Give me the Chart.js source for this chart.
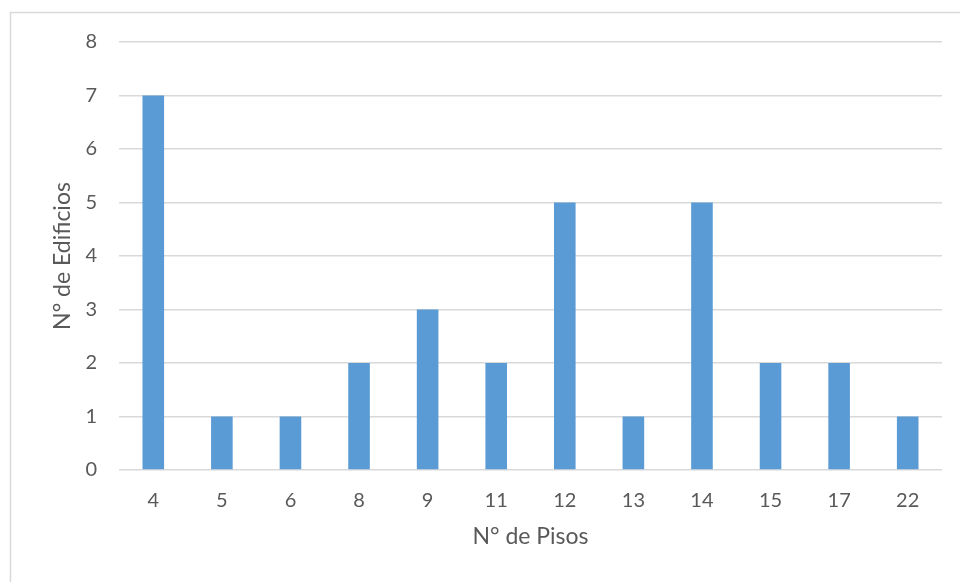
<!DOCTYPE html>
<html>
<head>
<meta charset="utf-8">
<script src="https://cdn.jsdelivr.net/npm/chart.js@4/dist/chart.umd.min.js"></script>
<style>
  html, body { margin: 0; padding: 0; background: #ffffff; }
  #wrap { position: relative; width: 960px; height: 582px; }
  canvas { display: block; }
</style>
</head>
<body>
<div id="wrap"><canvas id="c" width="960" height="582"></canvas></div>
<script>
// Número de pisos por edificio y cantidad de edificios en cada caso
const pisos = ['4', '5', '6', '8', '9', '11', '12', '13', '14', '15', '17', '22'];
const edificios = [7, 1, 1, 2, 3, 2, 5, 1, 5, 2, 2, 1];
const yTicks = [0, 1, 2, 3, 4, 5, 6, 7, 8];

const FONT = "Lato, 'Open Sans', sans-serif";
const TEXT = '#595959';
const GRID = '#d9d9d9';

// light frame around the chart
const frame = {
  id: 'frame',
  beforeDraw(chart) {
    const ctx = chart.ctx;
    ctx.save();
    ctx.fillStyle = '#ffffff';
    ctx.fillRect(0, 0, chart.width, chart.height);
    ctx.strokeStyle = GRID;
    ctx.lineWidth = 1.5;
    ctx.beginPath();
    ctx.moveTo(10.5, chart.height);
    ctx.lineTo(10.5, 12.5);
    ctx.lineTo(chart.width, 12.5);
    ctx.stroke();
    ctx.restore();
  }
};

new Chart(document.getElementById('c'), {
  type: 'bar',
  data: {
    labels: pisos,
    datasets: [{
      data: edificios,
      backgroundColor: '#5b9bd5',
      borderWidth: 0,
      barPercentage: 0.63,
      categoryPercentage: 0.5
    }]
  },
  plugins: [frame],
  options: {
    responsive: false,
    animation: false,
    layout: { padding: { top: 42, right: 18, bottom: 0, left: 0 } },
    plugins: { legend: { display: false }, tooltip: { enabled: false } },
    scales: {
      x: {
        grid: { display: false, drawTicks: false },
        border: { display: false },
        ticks: { color: TEXT, font: { family: FONT, size: 20 }, padding: 19 },
        title: {
          display: true, text: 'N° de Pisos', color: TEXT,
          font: { family: FONT, size: 23 }, padding: { top: 0, bottom: 32 }
        },
        afterFit(s) { s.height = 112; }
      },
      y: {
        min: 0, max: 8,
        afterBuildTicks(s) { s.ticks = yTicks.map(v => ({ value: v })); },
        grid: { color: GRID, lineWidth: 1.5, drawTicks: false },
        border: { display: false },
        ticks: { color: TEXT, font: { family: FONT, size: 20 }, padding: 22 },
        title: {
          display: true, text: 'N° de Edificios', color: TEXT,
          font: { family: FONT, size: 23 }, padding: { top: 49, bottom: 0 }
        },
        afterFit(s) { s.width = 119; }
      }
    }
  }
});
</script>
</body>
</html>
